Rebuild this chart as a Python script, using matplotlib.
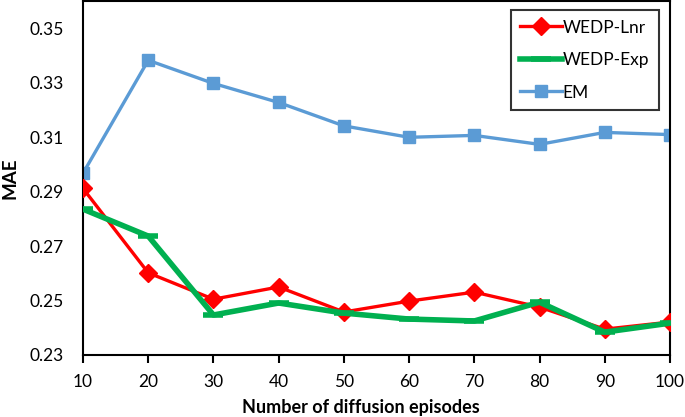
import matplotlib.pyplot as plt
import numpy as np

plt.rcParams['font.family'] = ['Lato', 'DejaVu Sans']

episodes = [10, 20, 30, 40, 50, 60, 70, 80, 90, 100]
wedp_lnr = [0.2912, 0.2602, 0.2505, 0.2550, 0.2458, 0.2498, 0.2531, 0.2476, 0.2395, 0.2421]
wedp_exp = [0.2836, 0.2737, 0.2447, 0.2491, 0.2454, 0.2432, 0.2425, 0.2494, 0.2384, 0.2417]
em = [0.2968, 0.3383, 0.3298, 0.3228, 0.3142, 0.3100, 0.3107, 0.3074, 0.3118, 0.3110]

fig = plt.figure(figsize=(6.85, 4.17), dpi=100)
ax = fig.add_axes([0.1212, 0.1487, 0.978 - 0.1212, 0.997 - 0.1487])

ax.plot(episodes, wedp_lnr, color='#FF0000', lw=2.4, marker='D', ms=9.5,
        label='WEDP-Lnr', zorder=3)
ax.plot(episodes, wedp_exp, color='#00B050', lw=4, marker='_', ms=14, mew=4,
        label='WEDP-Exp', zorder=4)
ax.plot(episodes, em, color='#5B9BD5', lw=2.4, marker='s', ms=9,
        label='EM', zorder=2)

ax.set_xlim(10, 100)
ax.set_ylim(0.23, 0.36)
ax.set_xticks(episodes)
ax.set_yticks(np.arange(0.23, 0.351, 0.02))
ax.set_yticklabels(['0.23', '0.25', '0.27', '0.29', '0.31', '0.33', '0.35'])
ax.tick_params(axis='x', direction='out', length=6, width=1.5, labelsize=12.5, pad=8)
ax.tick_params(axis='y', length=0, labelsize=12.5, pad=14)
for s in ax.spines.values():
    s.set_linewidth(1.5)

ax.set_xlabel('Number of diffusion episodes', fontsize=13, fontweight='bold', labelpad=3)
ax.xaxis.set_label_coords(0.474, -0.125)
ax.set_ylabel('MAE', fontsize=13.5, fontweight='bold', labelpad=8)

leg = ax.legend(loc='upper right', bbox_to_anchor=(0.99, 0.99), fontsize=12.5,
                frameon=True, fancybox=False, edgecolor='black', handlelength=2.4,
                handletextpad=0.05, labelspacing=0.95, borderpad=0.55, borderaxespad=0.3)
leg.get_frame().set_linewidth(1.5)

plt.savefig('out.png', dpi=100)
